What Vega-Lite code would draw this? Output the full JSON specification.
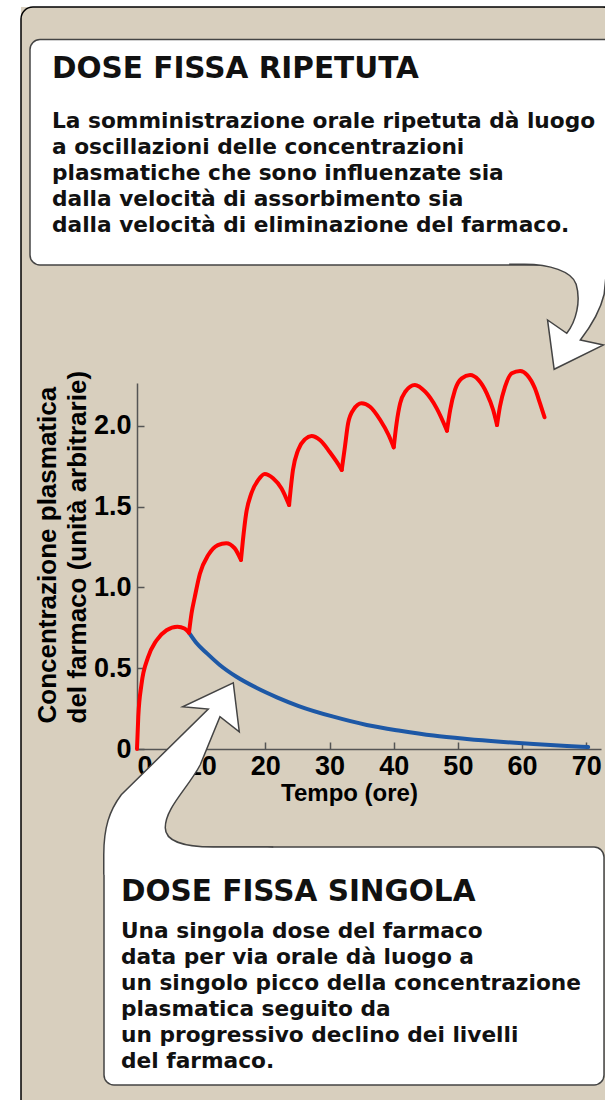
{
  "$schema": "https://vega.github.io/schema/vega-lite/v6.json",
  "width": 464,
  "height": 366,
  "autosize": {"type": "none"},
  "padding": {"left": 137, "top": 383, "right": 4, "bottom": 351},
  "background": "#d8cfbe",
  "datasets": {
    "mask": [
      {"x": -22.9, "x2": -18.075, "y": 4.697, "y2": -2.3},
      {"x": -22.9, "x2": 74.48, "y": 4.697, "y2": 4.592}
    ],
    "frame": [
      {"x": -18.075, "x2": 74.48, "y": 4.592, "y2": -2.3}
    ],
    "boxes": [
      {"box": "ripetuta", "x": -16.673, "x2": 76.04, "y": 4.3908, "y2": 2.9953},
      {"box": "singola", "x": -5.142, "x2": 72.77, "y": -0.6065, "y2": -2.0793}
    ],
    "arrowTop": [{"x": 65, "y": 2.35}],
    "arrowBottom": [{"x": 15, "y": 0.41}],
    "titles": [
      {"x": -13.245, "y": 4.1525, "text": "DOSE FISSA RIPETUTA"},
      {"x": -2.493, "y": -0.9406, "text": "DOSE FISSA SINGOLA"}
    ],
    "bodies": [
      {"x": -13.245, "y": 3.84, "text": ["La somministrazione orale ripetuta dà luogo", "a oscillazioni delle concentrazioni", "plasmatiche che sono influenzate sia", "dalla velocità di assorbimento sia", "dalla velocità di eliminazione del farmaco."]},
      {"x": -2.493, "y": -1.1715, "text": ["Una singola dose del farmaco", "data per via orale dà luogo a", "un singolo picco della concentrazione", "plasmatica seguito da", "un progressivo declino dei livelli", "del farmaco."]}
    ],
    "curves": [
      {"series": "ripetuta", "cycle": 1, "t": 0, "c": 0},
      {"series": "ripetuta", "cycle": 1, "t": 0.2, "c": 0.2},
      {"series": "ripetuta", "cycle": 1, "t": 0.7, "c": 0.4},
      {"series": "ripetuta", "cycle": 1, "t": 1.7, "c": 0.565},
      {"series": "ripetuta", "cycle": 1, "t": 3.0, "c": 0.67},
      {"series": "ripetuta", "cycle": 1, "t": 4.6, "c": 0.735},
      {"series": "ripetuta", "cycle": 1, "t": 6.3, "c": 0.757},
      {"series": "ripetuta", "cycle": 1, "t": 7.4, "c": 0.745},
      {"series": "ripetuta", "cycle": 1, "t": 8.1, "c": 0.72},
      {"series": "ripetuta", "cycle": 2, "t": 8.1, "c": 0.72},
      {"series": "ripetuta", "cycle": 2, "t": 8.5, "c": 0.84},
      {"series": "ripetuta", "cycle": 2, "t": 9.0, "c": 0.94},
      {"series": "ripetuta", "cycle": 2, "t": 9.8, "c": 1.085},
      {"series": "ripetuta", "cycle": 2, "t": 11.1, "c": 1.2},
      {"series": "ripetuta", "cycle": 2, "t": 12.6, "c": 1.262},
      {"series": "ripetuta", "cycle": 2, "t": 13.9, "c": 1.274},
      {"series": "ripetuta", "cycle": 2, "t": 15.2, "c": 1.243},
      {"series": "ripetuta", "cycle": 2, "t": 16.2, "c": 1.17},
      {"series": "ripetuta", "cycle": 3, "t": 16.2, "c": 1.17},
      {"series": "ripetuta", "cycle": 3, "t": 16.5, "c": 1.29},
      {"series": "ripetuta", "cycle": 3, "t": 17.0, "c": 1.455},
      {"series": "ripetuta", "cycle": 3, "t": 17.8, "c": 1.58},
      {"series": "ripetuta", "cycle": 3, "t": 18.9, "c": 1.665},
      {"series": "ripetuta", "cycle": 3, "t": 19.9, "c": 1.702},
      {"series": "ripetuta", "cycle": 3, "t": 21.2, "c": 1.676},
      {"series": "ripetuta", "cycle": 3, "t": 22.5, "c": 1.614},
      {"series": "ripetuta", "cycle": 3, "t": 23.7, "c": 1.51},
      {"series": "ripetuta", "cycle": 4, "t": 23.7, "c": 1.51},
      {"series": "ripetuta", "cycle": 4, "t": 24.3, "c": 1.727},
      {"series": "ripetuta", "cycle": 4, "t": 25.1, "c": 1.85},
      {"series": "ripetuta", "cycle": 4, "t": 26.2, "c": 1.918},
      {"series": "ripetuta", "cycle": 4, "t": 27.2, "c": 1.937},
      {"series": "ripetuta", "cycle": 4, "t": 28.5, "c": 1.912},
      {"series": "ripetuta", "cycle": 4, "t": 30.0, "c": 1.84},
      {"series": "ripetuta", "cycle": 4, "t": 31.1, "c": 1.778},
      {"series": "ripetuta", "cycle": 4, "t": 31.9, "c": 1.727},
      {"series": "ripetuta", "cycle": 5, "t": 31.9, "c": 1.727},
      {"series": "ripetuta", "cycle": 5, "t": 32.4, "c": 1.871},
      {"series": "ripetuta", "cycle": 5, "t": 32.9, "c": 2.016},
      {"series": "ripetuta", "cycle": 5, "t": 33.7, "c": 2.098},
      {"series": "ripetuta", "cycle": 5, "t": 35.0, "c": 2.139},
      {"series": "ripetuta", "cycle": 5, "t": 36.3, "c": 2.118},
      {"series": "ripetuta", "cycle": 5, "t": 37.9, "c": 2.036},
      {"series": "ripetuta", "cycle": 5, "t": 39.2, "c": 1.943},
      {"series": "ripetuta", "cycle": 5, "t": 40.0, "c": 1.867},
      {"series": "ripetuta", "cycle": 6, "t": 40.0, "c": 1.867},
      {"series": "ripetuta", "cycle": 6, "t": 40.45, "c": 2.016},
      {"series": "ripetuta", "cycle": 6, "t": 41.0, "c": 2.139},
      {"series": "ripetuta", "cycle": 6, "t": 41.8, "c": 2.211},
      {"series": "ripetuta", "cycle": 6, "t": 43.3, "c": 2.253},
      {"series": "ripetuta", "cycle": 6, "t": 44.9, "c": 2.211},
      {"series": "ripetuta", "cycle": 6, "t": 46.7, "c": 2.108},
      {"series": "ripetuta", "cycle": 6, "t": 48.3, "c": 1.97},
      {"series": "ripetuta", "cycle": 7, "t": 48.3, "c": 1.97},
      {"series": "ripetuta", "cycle": 7, "t": 48.8, "c": 2.098},
      {"series": "ripetuta", "cycle": 7, "t": 49.55, "c": 2.222},
      {"series": "ripetuta", "cycle": 7, "t": 50.6, "c": 2.294},
      {"series": "ripetuta", "cycle": 7, "t": 51.9, "c": 2.314},
      {"series": "ripetuta", "cycle": 7, "t": 53.2, "c": 2.284},
      {"series": "ripetuta", "cycle": 7, "t": 54.5, "c": 2.201},
      {"series": "ripetuta", "cycle": 7, "t": 55.5, "c": 2.098},
      {"series": "ripetuta", "cycle": 7, "t": 56.1, "c": 2.005},
      {"series": "ripetuta", "cycle": 8, "t": 56.1, "c": 2.005},
      {"series": "ripetuta", "cycle": 8, "t": 56.55, "c": 2.118},
      {"series": "ripetuta", "cycle": 8, "t": 57.35, "c": 2.242},
      {"series": "ripetuta", "cycle": 8, "t": 58.4, "c": 2.325},
      {"series": "ripetuta", "cycle": 8, "t": 59.7, "c": 2.339},
      {"series": "ripetuta", "cycle": 8, "t": 60.8, "c": 2.314},
      {"series": "ripetuta", "cycle": 8, "t": 62.0, "c": 2.232},
      {"series": "ripetuta", "cycle": 8, "t": 62.8, "c": 2.139},
      {"series": "ripetuta", "cycle": 8, "t": 63.5, "c": 2.053},
      {"series": "singola", "cycle": 0, "t": 8.1, "c": 0.72},
      {"series": "singola", "cycle": 0, "t": 9.3, "c": 0.654},
      {"series": "singola", "cycle": 0, "t": 10.9, "c": 0.592},
      {"series": "singola", "cycle": 0, "t": 12.9, "c": 0.52},
      {"series": "singola", "cycle": 0, "t": 15.5, "c": 0.447},
      {"series": "singola", "cycle": 0, "t": 18.6, "c": 0.379},
      {"series": "singola", "cycle": 0, "t": 21.8, "c": 0.32},
      {"series": "singola", "cycle": 0, "t": 25.2, "c": 0.266},
      {"series": "singola", "cycle": 0, "t": 30.6, "c": 0.2},
      {"series": "singola", "cycle": 0, "t": 35.8, "c": 0.149},
      {"series": "singola", "cycle": 0, "t": 41.0, "c": 0.113},
      {"series": "singola", "cycle": 0, "t": 46.2, "c": 0.083},
      {"series": "singola", "cycle": 0, "t": 51.4, "c": 0.062},
      {"series": "singola", "cycle": 0, "t": 56.6, "c": 0.045},
      {"series": "singola", "cycle": 0, "t": 61.8, "c": 0.031},
      {"series": "singola", "cycle": 0, "t": 67.0, "c": 0.019},
      {"series": "singola", "cycle": 0, "t": 70.3, "c": 0.012}
    ]
  },
  "layer": [
    {
      "data": {"name": "mask"},
      "mark": {"type": "rect", "fill": "white", "strokeWidth": 0},
      "encoding": {
        "x": {"field": "x", "type": "quantitative", "scale": {"domain": [0, 72.3], "nice": false, "zero": false}},
        "x2": {"field": "x2"},
        "y": {"field": "y", "type": "quantitative", "scale": {"domain": [0, 2.265], "nice": false, "zero": false}},
        "y2": {"field": "y2"}
      }
    },
    {
      "data": {"name": "frame"},
      "mark": {"type": "rect", "filled": false, "fill": null, "stroke": "#000000", "strokeWidth": 1.5, "cornerRadius": 12},
      "encoding": {
        "x": {"field": "x", "type": "quantitative"},
        "x2": {"field": "x2"},
        "y": {"field": "y", "type": "quantitative"},
        "y2": {"field": "y2"}
      }
    },
    {
      "data": {"name": "boxes"},
      "mark": {"type": "rect", "fill": "#ffffff", "stroke": "#444444", "strokeWidth": 1.5, "cornerRadius": 10},
      "encoding": {
        "x": {"field": "x", "type": "quantitative"},
        "x2": {"field": "x2"},
        "y": {"field": "y", "type": "quantitative"},
        "y2": {"field": "y2"}
      }
    },
    {
      "data": {"name": "curves"},
      "transform": [{"filter": "datum.series === 'singola'"}],
      "mark": {"type": "line", "color": "#1d58a6", "strokeWidth": 4, "interpolate": "monotone", "strokeCap": "round"},
      "encoding": {
        "x": {"field": "t", "type": "quantitative"},
        "y": {"field": "c", "type": "quantitative"}
      }
    },
    {
      "data": {"name": "curves"},
      "transform": [{"filter": "datum.series === 'ripetuta'"}],
      "mark": {"type": "line", "color": "#ff0000", "strokeWidth": 4, "interpolate": "monotone", "strokeCap": "round", "strokeJoin": "round"},
      "encoding": {
        "x": {
          "field": "t", "type": "quantitative",
          "scale": {"domain": [0, 72.3], "nice": false, "zero": false},
          "axis": {
            "title": "Tempo (ore)",
            "values": [0, 10, 20, 30, 40, 50, 60, 70],
            "labelAlign": {"condition": {"test": "datum.value == 0", "value": "left"}, "value": "center"},
            "labelPadding": 11,
            "titleFontSize": 24,
            "titleX": 212,
            "titleY": 51,
            "titleAlign": "center",
            "titleBaseline": "alphabetic"
          }
        },
        "y": {
          "field": "c", "type": "quantitative",
          "scale": {"domain": [0, 2.265], "nice": false, "zero": false},
          "axis": {
            "title": ["Concentrazione plasmatica", "del farmaco (unità arbitrarie)"],
            "values": [0, 0.5, 1, 1.5, 2],
            "labelExpr": "datum.value == 0 ? '0' : format(datum.value, '.1f')",
            "labelPadding": 13,
            "titleFontSize": 26,
            "titleAngle": -90,
            "titleAlign": "left",
            "titleBaseline": "alphabetic",
            "titleX": -82,
            "titleY": 340,
            "titleLineHeight": 30
          }
        },
        "detail": {"field": "cycle", "type": "nominal"}
      }
    },
    {
      "data": {"name": "arrowTop"},
      "mark": {"type": "point", "shape": "M -45 -105 L -29.7 -105 C -5 -105 18 -98 22 -85 C 27 -68 22 -48 12.6 -36 L -6.6 -49.3 L 0 0 L 49.4 -24.3 L 26.2 -29.3 C 36 -42 46 -58 50 -75 L 56 -135", "size": 4, "filled": true, "fill": "#ffffff", "stroke": "#444444", "strokeWidth": 1.5, "opacity": 1, "fillOpacity": 1, "strokeJoin": "miter"},
      "encoding": {
        "x": {"field": "x", "type": "quantitative"},
        "y": {"field": "y", "type": "quantitative"}
      }
    },
    {
      "data": {"name": "arrowBottom"},
      "mark": {"type": "point", "shape": "M -129.5 192 L -129.5 172 C -129.5 145 -124 128 -112 112 L -25 26.3 L -50.6 24 L 0 0 L 6 49 L -13.3 34 L -33 82 C -45 105 -68 125 -68 145 C -68 158 -50 164.3 -20 164.3 L 40 164.3", "size": 4, "filled": true, "fill": "#ffffff", "stroke": "#444444", "strokeWidth": 1.5, "opacity": 1, "fillOpacity": 1, "strokeJoin": "miter"},
      "encoding": {
        "x": {"field": "x", "type": "quantitative"},
        "y": {"field": "y", "type": "quantitative"}
      }
    },
    {
      "data": {"name": "titles"},
      "mark": {"type": "text", "font": "DejaVu Sans", "fontWeight": "bold", "fontSize": 29.5, "align": "left", "baseline": "alphabetic", "color": "#111111"},
      "encoding": {
        "x": {"field": "x", "type": "quantitative"},
        "y": {"field": "y", "type": "quantitative"},
        "text": {"field": "text"}
      }
    },
    {
      "data": {"name": "bodies"},
      "mark": {"type": "text", "font": "DejaVu Sans", "fontWeight": "bold", "fontSize": 21.7, "lineHeight": 26, "align": "left", "baseline": "alphabetic", "color": "#111111"},
      "encoding": {
        "x": {"field": "x", "type": "quantitative"},
        "y": {"field": "y", "type": "quantitative"},
        "text": {"field": "text"}
      }
    }
  ],
  "config": {
    "view": {"stroke": null},
    "axis": {
      "grid": false,
      "domainColor": "#555555",
      "domainWidth": 1.5,
      "tickColor": "#555555",
      "tickWidth": 1.5,
      "tickSize": -7,
      "labelFont": "Liberation Sans",
      "labelFontWeight": "bold",
      "labelFontSize": 27,
      "labelColor": "#000000",
      "labelFlush": false,
      "labelOverlap": false,
      "labelBound": false,
      "titleFont": "Liberation Sans",
      "titleFontWeight": "bold",
      "titleColor": "#000000"
    }
  }
}
